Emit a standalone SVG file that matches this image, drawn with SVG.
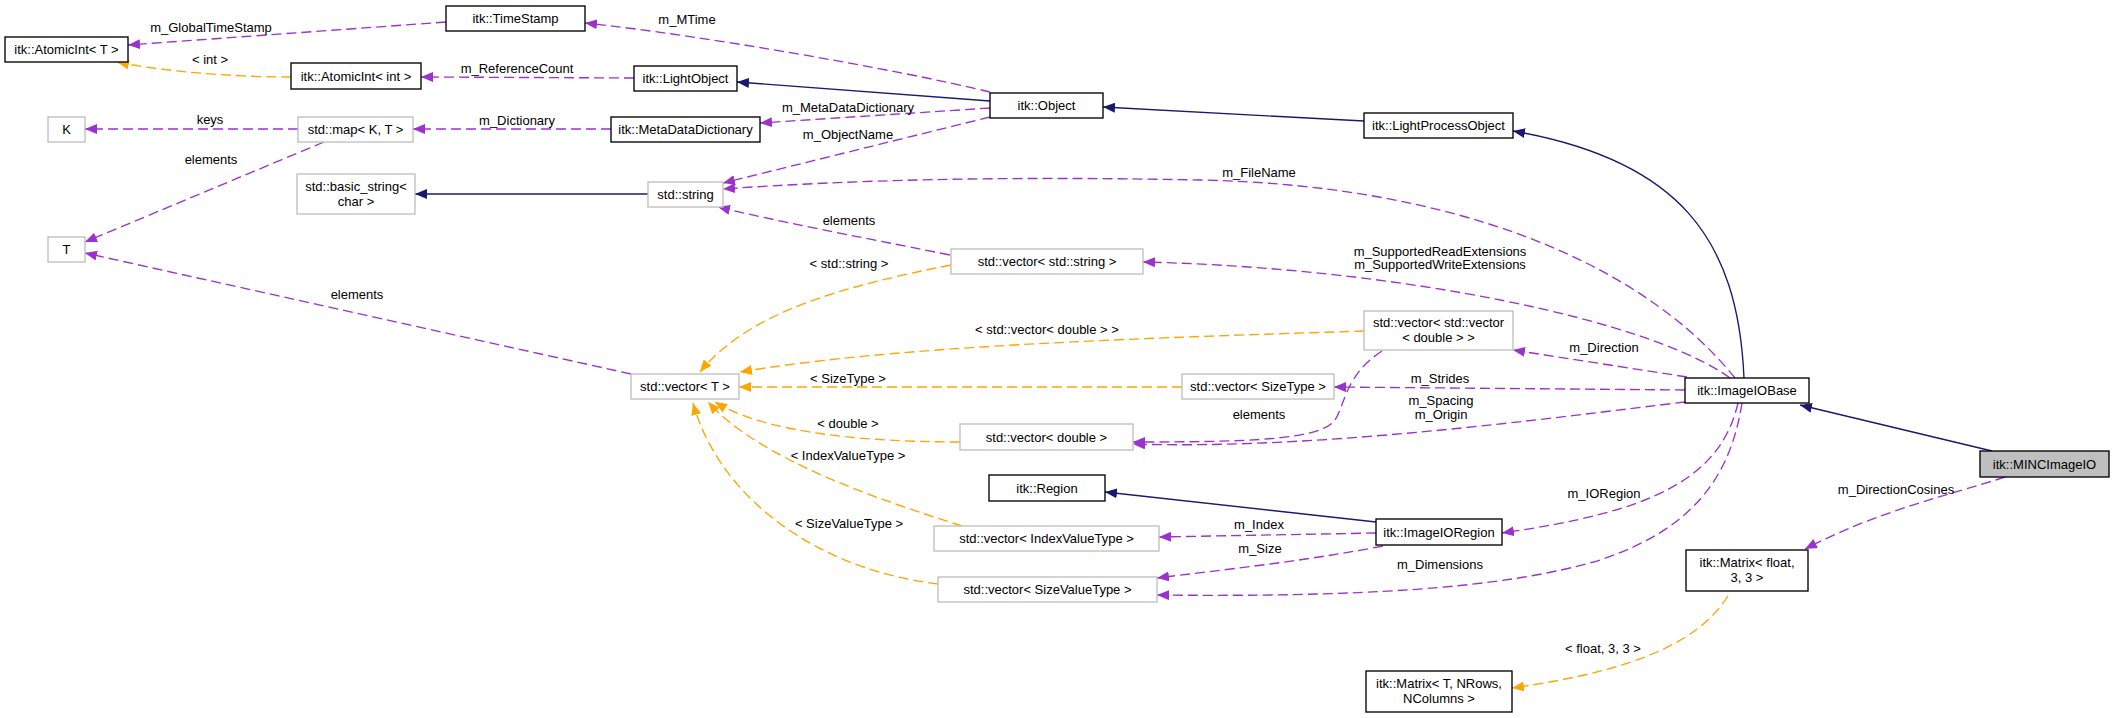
<svg xmlns="http://www.w3.org/2000/svg" width="2115" height="718" viewBox="0 0 2115 718">
<style>
text{font-family:"Liberation Sans",Arial,sans-serif;font-size:13px;fill:#000;text-anchor:middle}
.n rect{fill:#fff;stroke:#000;stroke-width:1.35}
.u rect{fill:#fff;stroke:#bfbfbf;stroke-width:1.35}
.r rect{fill:#bfbfbf;stroke:#000;stroke-width:1.35}
.p{fill:none;stroke:#9a32cd;stroke-width:1.35;stroke-dasharray:10,5;marker-end:url(#ap)}
.o{fill:none;stroke:#ffa500;stroke-width:1.35;stroke-dasharray:10,5;marker-end:url(#ao)}
.b{fill:none;stroke:#191970;stroke-width:1.35;marker-end:url(#ab)}
</style>
<defs>
<marker id="ap" markerUnits="userSpaceOnUse" markerWidth="13" markerHeight="10" refX="12" refY="5" orient="auto"><path d="M0,0 L12,5 L0,10 z" fill="#9a32cd"/></marker>
<marker id="ao" markerUnits="userSpaceOnUse" markerWidth="13" markerHeight="10" refX="12" refY="5" orient="auto"><path d="M0,0 L12,5 L0,10 z" fill="#ffa500"/></marker>
<marker id="ab" markerUnits="userSpaceOnUse" markerWidth="13" markerHeight="10" refX="12" refY="5" orient="auto"><path d="M0,0 L12,5 L0,10 z" fill="#191970"/></marker>
</defs>
<rect width="2115" height="718" fill="#fff"/>
<g id="edges">
<path class="p" d="M446,22 L128,45"/><text x="211" y="32">m_GlobalTimeStamp</text>
<path class="o" d="M291,77 C230,77 160,71 117,62"/><text x="210" y="64">&lt; int &gt;</text>
<path class="p" d="M634,78 L421,77"/><text x="517" y="73">m_ReferenceCount</text>
<path class="p" d="M990,92 C900,70 700,35 585,23"/><text x="687" y="24">m_MTime</text>
<path class="b" d="M990,101 L737,82"/>
<path class="p" d="M990,108 L760,123"/><text x="848" y="112">m_MetaDataDictionary</text>
<path class="p" d="M611,129 L413,129"/><text x="517" y="125">m_Dictionary</text>
<path class="p" d="M298,129 L85,129"/><text x="210" y="124">keys</text>
<path class="p" d="M324,142 L85,242"/><text x="211" y="164">elements</text>
<path class="p" d="M631,374 L85,253"/><text x="357" y="299">elements</text>
<path class="b" d="M648,194 L415,194"/>
<path class="p" d="M990,117 L723,183"/><text x="848" y="139">m_ObjectName</text>
<path class="p" d="M1735,378 C1640,260 1450,185 1200,180 C1000,176 850,180 723,189"/><text x="1259" y="177">m_FileName</text>
<path class="p" d="M950,255 C850,235 780,222 718,207"/><text x="849" y="225">elements</text>
<path class="p" d="M1730,378 C1650,320 1400,268 1143,262"/><text x="1440" y="256">m_SupportedReadExtensions</text><text x="1440" y="269">m_SupportedWriteExtensions</text>
<path class="p" d="M1687,377 L1513,350"/><text x="1604" y="352">m_Direction</text>
<path class="p" d="M1685,390 L1334,387"/><text x="1440" y="383">m_Strides</text>
<path class="p" d="M1685,402 C1550,418 1320,450 1133,444"/><text x="1441" y="405">m_Spacing</text><text x="1441" y="419">m_Origin</text>
<path class="p" d="M1382,351 C1345,375 1345,405 1335,420 C1320,440 1250,442 1133,442"/><text x="1259" y="419">elements</text>
<path class="o" d="M951,265 C850,285 750,310 700,372"/><text x="849" y="268">&lt; std::string &gt;</text>
<path class="o" d="M1364,331 C1150,338 900,345 740,372"/><text x="1047" y="334">&lt; std::vector&lt; double &gt; &gt;</text>
<path class="o" d="M1182,387 L739,387"/><text x="848" y="383">&lt; SizeType &gt;</text>
<path class="o" d="M960,442 C850,442 760,430 715,402"/><text x="848" y="428">&lt; double &gt;</text>
<path class="o" d="M962,526 C880,500 760,460 708,402"/><text x="848" y="460">&lt; IndexValueType &gt;</text>
<path class="o" d="M938,584 C820,570 720,500 693,403"/><text x="849" y="528">&lt; SizeValueType &gt;</text>
<path class="b" d="M1364,121 L1103,107"/>
<path class="b" d="M1744,378 C1738,240 1680,160 1513,131"/>
<path class="b" d="M1992,451 L1800,405"/>
<path class="b" d="M1376,522 L1105,492"/>
<path class="p" d="M1376,533 L1159,537"/><text x="1259" y="529">m_Index</text>
<path class="p" d="M1383,546 C1300,562 1220,570 1157,578"/><text x="1260" y="553">m_Size</text>
<path class="p" d="M1738,403 C1720,480 1650,512 1502,533"/><text x="1604" y="498">m_IORegion</text>
<path class="p" d="M1742,403 C1730,480 1690,530 1600,560 C1500,590 1350,597 1157,595"/><text x="1440" y="569">m_Dimensions</text>
<path class="p" d="M2005,477 C1950,495 1880,510 1805,549"/><text x="1896" y="494">m_DirectionCosines</text>
<path class="o" d="M1728,596 C1700,640 1640,670 1512,688"/><text x="1603" y="653">&lt; float, 3, 3 &gt;</text>
</g>
<g id="n_atomicT" class="n"><rect x="5" y="37" width="123" height="25"/><text x="66.5" y="54">itk::AtomicInt&lt; T &gt;</text></g>
<g id="n_timestamp" class="n"><rect x="446" y="6" width="139" height="25"/><text x="515.5" y="23">itk::TimeStamp</text></g>
<g id="n_atomicint" class="n"><rect x="291" y="63" width="130" height="26"/><text x="356" y="80.5">itk::AtomicInt&lt; int &gt;</text></g>
<g id="n_K" class="u"><rect x="48" y="117" width="37" height="25"/><text x="66.5" y="134">K</text></g>
<g id="n_map" class="u"><rect x="298" y="117" width="115" height="25"/><text x="355.5" y="134">std::map&lt; K, T &gt;</text></g>
<g id="n_basicstring" class="u"><rect x="297" y="174" width="118" height="40"/><text x="356" y="191">std::basic_string&lt;</text><text x="356" y="205.5">char &gt;</text></g>
<g id="n_T" class="u"><rect x="48" y="237" width="37" height="25"/><text x="66.5" y="254">T</text></g>
<g id="n_lightobject" class="n"><rect x="634" y="66" width="103" height="25"/><text x="685.5" y="83">itk::LightObject</text></g>
<g id="n_metadata" class="n"><rect x="611" y="117" width="149" height="25"/><text x="685.5" y="134">itk::MetaDataDictionary</text></g>
<g id="n_object" class="n"><rect x="990" y="93" width="113" height="25"/><text x="1046.5" y="110">itk::Object</text></g>
<g id="n_string" class="u"><rect x="648" y="182" width="75" height="25"/><text x="685.5" y="199">std::string</text></g>
<g id="n_lpo" class="n"><rect x="1364" y="113" width="149" height="25"/><text x="1438.5" y="130">itk::LightProcessObject</text></g>
<g id="n_vectorT" class="u"><rect x="631" y="374" width="108" height="25"/><text x="685" y="391">std::vector&lt; T &gt;</text></g>
<g id="n_vecstring" class="u"><rect x="951" y="249" width="192" height="25"/><text x="1047" y="266">std::vector&lt; std::string &gt;</text></g>
<g id="n_vecdouble" class="u"><rect x="960" y="424" width="173" height="26"/><text x="1046.5" y="441.5">std::vector&lt; double &gt;</text></g>
<g id="n_vecvec" class="u"><rect x="1364" y="311" width="149" height="39"/><text x="1438.5" y="327">std::vector&lt; std::vector</text><text x="1438.5" y="341.5">&lt; double &gt; &gt;</text></g>
<g id="n_vecsize" class="u"><rect x="1182" y="374" width="152" height="25"/><text x="1258" y="391">std::vector&lt; SizeType &gt;</text></g>
<g id="n_imageiobase" class="n"><rect x="1685" y="378" width="124" height="25"/><text x="1747" y="395">itk::ImageIOBase</text></g>
<g id="n_minc" class="r"><rect x="1980" y="451" width="129" height="26"/><text x="2044.5" y="468.5">itk::MINCImageIO</text></g>
<g id="n_region" class="n"><rect x="989" y="475" width="116" height="26"/><text x="1047" y="492.5">itk::Region</text></g>
<g id="n_vecindex" class="u"><rect x="934" y="526" width="225" height="25"/><text x="1046.5" y="543">std::vector&lt; IndexValueType &gt;</text></g>
<g id="n_vecsizevalue" class="u"><rect x="938" y="577" width="219" height="25"/><text x="1047.5" y="594">std::vector&lt; SizeValueType &gt;</text></g>
<g id="n_ioregion" class="n"><rect x="1376" y="519" width="126" height="26"/><text x="1439" y="536.5">itk::ImageIORegion</text></g>
<g id="n_matrixT" class="n"><rect x="1366" y="671" width="146" height="41"/><text x="1439" y="688">itk::Matrix&lt; T, NRows,</text><text x="1439" y="703">NColumns &gt;</text></g>
<g id="n_matrixf" class="n"><rect x="1686" y="550" width="122" height="41"/><text x="1747" y="567">itk::Matrix&lt; float,</text><text x="1747" y="582">3, 3 &gt;</text></g>
</svg>
